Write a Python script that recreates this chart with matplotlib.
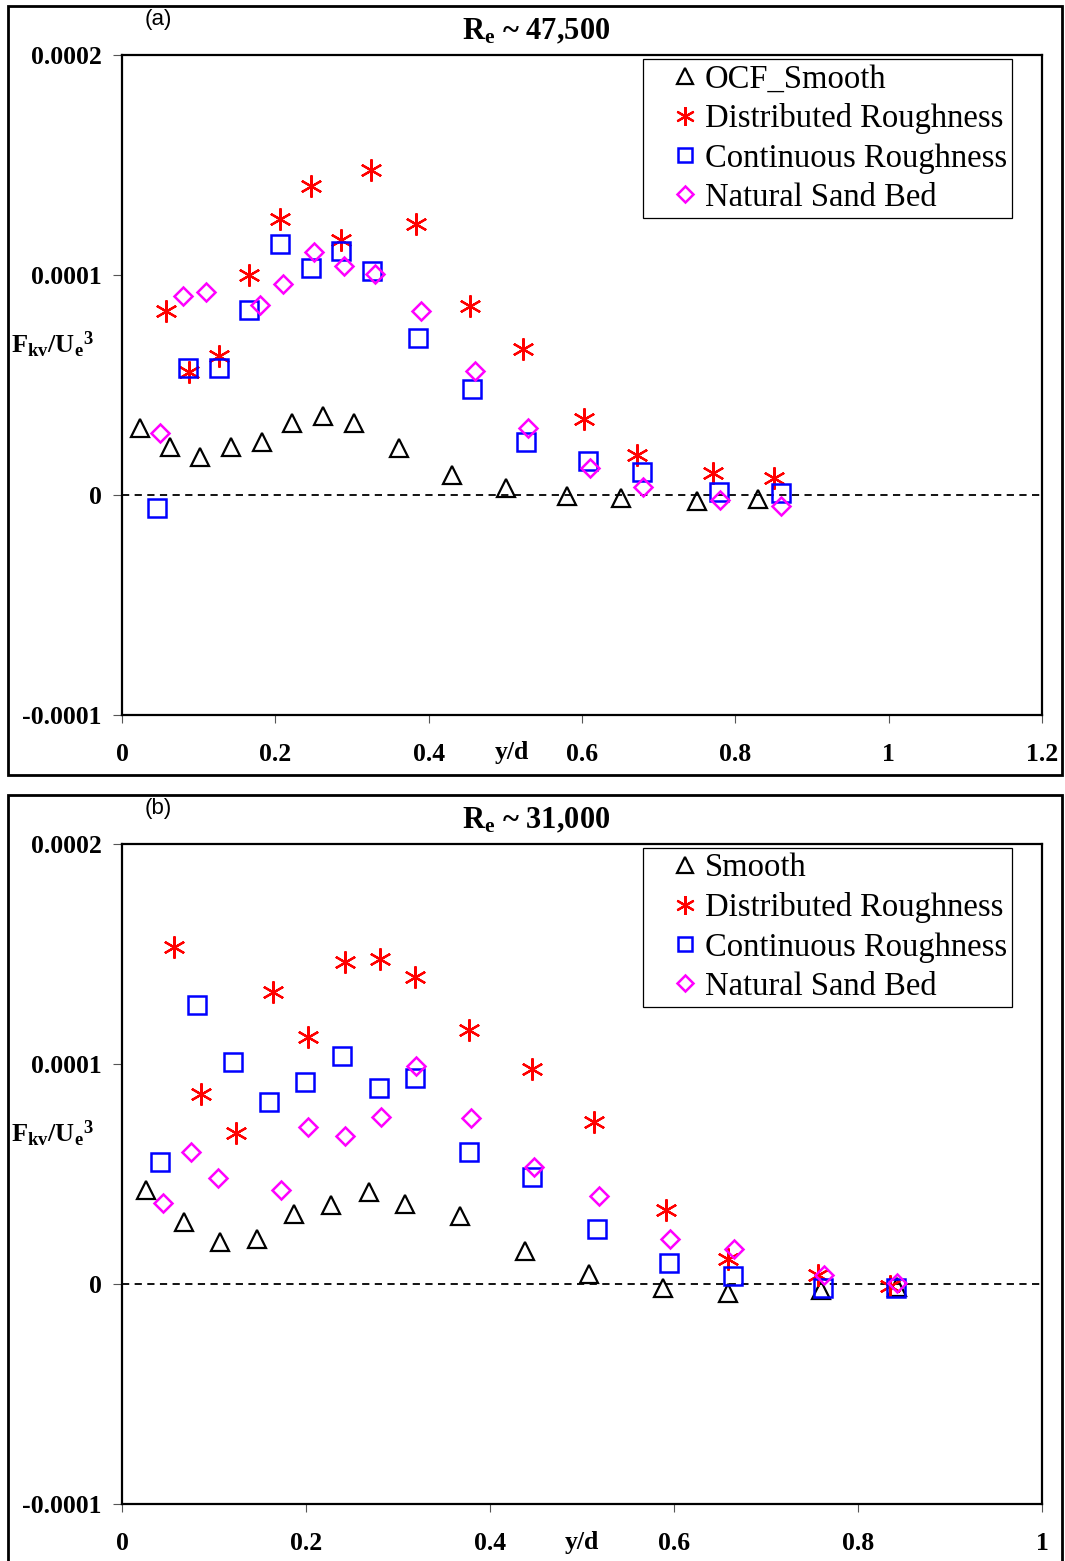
import matplotlib
matplotlib.use("Agg")
import matplotlib.pyplot as plt
from matplotlib.patches import Rectangle

plt.rcParams['font.family'] = ['Liberation Serif', 'DejaVu Serif']
plt.rcParams['mathtext.fontset'] = 'custom'
plt.rcParams['mathtext.rm'] = 'Liberation Serif'
plt.rcParams['mathtext.bf'] = 'Liberation Serif:bold'
plt.rcParams['mathtext.it'] = 'Liberation Serif:italic'

# ---------------- Panel (a) data: Re ~ 47,500 ----------------
a_smooth_x = [0.023, 0.063, 0.102, 0.142, 0.182, 0.222, 0.262, 0.302, 0.361, 0.431,
              0.501, 0.581, 0.651, 0.750, 0.830]
a_smooth_y = [0.303e-4, 0.217e-4, 0.171e-4, 0.217e-4, 0.242e-4, 0.329e-4, 0.359e-4, 0.329e-4,
              0.212e-4, 0.091e-4, 0.030e-4, -0.005e-4, -0.012e-4, -0.026e-4, -0.018e-4]

a_dist_x = [0.057, 0.087, 0.126, 0.166, 0.206, 0.246, 0.285, 0.325, 0.384, 0.454,
            0.523, 0.603, 0.672, 0.771, 0.851]
a_dist_y = [0.838e-4, 0.561e-4, 0.632e-4, 1.000e-4, 1.255e-4, 1.406e-4, 1.159e-4, 1.477e-4,
            1.232e-4, 0.859e-4, 0.662e-4, 0.344e-4, 0.182e-4, 0.098e-4, 0.076e-4]

a_cont_x = [0.045, 0.086, 0.126, 0.166, 0.206, 0.246, 0.286, 0.326, 0.386, 0.457,
            0.527, 0.608, 0.678, 0.779, 0.859]
a_cont_y = [-0.061e-4, 0.579e-4, 0.576e-4, 0.841e-4, 1.139e-4, 1.030e-4, 1.109e-4, 1.018e-4,
            0.712e-4, 0.482e-4, 0.239e-4, 0.155e-4, 0.103e-4, 0.012e-4, 0.008e-4]

a_sand_x = [0.050, 0.080, 0.110, 0.180, 0.210, 0.250, 0.290, 0.330, 0.390, 0.460,
            0.530, 0.610, 0.680, 0.780, 0.860]
a_sand_y = [0.280e-4, 0.906e-4, 0.924e-4, 0.864e-4, 0.958e-4, 1.106e-4, 1.042e-4, 1.003e-4,
            0.838e-4, 0.564e-4, 0.303e-4, 0.121e-4, 0.038e-4, -0.023e-4, -0.049e-4]

# ---------------- Panel (b) data: Re ~ 31,000 ----------------
b_smooth_x = [0.026, 0.067, 0.107, 0.147, 0.187, 0.227, 0.268, 0.308, 0.367, 0.438,
              0.508, 0.588, 0.659, 0.760, 0.842]
b_smooth_y = [0.427e-4, 0.280e-4, 0.189e-4, 0.203e-4, 0.317e-4, 0.359e-4, 0.417e-4, 0.364e-4,
              0.311e-4, 0.152e-4, 0.044e-4, -0.017e-4, -0.042e-4, -0.027e-4, -0.012e-4]

b_dist_x = [0.057, 0.086, 0.124, 0.164, 0.2025, 0.242, 0.280, 0.319, 0.377, 0.446,
            0.513, 0.591, 0.659, 0.757, 0.835]
b_dist_y = [1.533e-4, 0.864e-4, 0.685e-4, 1.329e-4, 1.124e-4, 1.462e-4, 1.476e-4, 1.394e-4,
            1.155e-4, 0.976e-4, 0.735e-4, 0.336e-4, 0.114e-4, 0.041e-4, -0.008e-4]

b_cont_x = [0.041, 0.081, 0.121, 0.160, 0.199, 0.239, 0.279, 0.318, 0.377, 0.446,
            0.516, 0.595, 0.664, 0.762, 0.841]
b_cont_y = [0.553e-4, 1.268e-4, 1.011e-4, 0.829e-4, 0.920e-4, 1.036e-4, 0.892e-4, 0.938e-4,
            0.601e-4, 0.488e-4, 0.250e-4, 0.094e-4, 0.036e-4, -0.020e-4, -0.017e-4]

b_sand_x = [0.045, 0.075, 0.104, 0.173, 0.2025, 0.242, 0.281, 0.320, 0.379, 0.448,
            0.518, 0.596, 0.665, 0.763, 0.842]
b_sand_y = [0.367e-4, 0.601e-4, 0.483e-4, 0.427e-4, 0.715e-4, 0.674e-4, 0.758e-4, 0.992e-4,
            0.756e-4, 0.533e-4, 0.401e-4, 0.205e-4, 0.159e-4, 0.041e-4, 0.003e-4]

a_labels = ['OCF_Smooth', 'Distributed Roughness', 'Continuous Roughness', 'Natural Sand Bed']
b_labels = ['Smooth', 'Distributed Roughness', 'Continuous Roughness', 'Natural Sand Bed']

yticks = [-0.0001, 0, 0.0001, 0.0002]
ytick_labels = ['-0.0001', '0', '0.0001', '0.0002']
a_xticks = [0, 0.2, 0.4, 0.6, 0.8, 1.0, 1.2]
a_xtick_labels = ['0', '0.2', '0.4', '0.6', '0.8', '1', '1.2']
b_xticks = [0, 0.2, 0.4, 0.6, 0.8, 1.0]
b_xtick_labels = ['0', '0.2', '0.4', '0.6', '0.8', '1']

W, H = 1065, 1561
fig = plt.figure(figsize=(W / 100, H / 100), dpi=100)

SERIF = 'Liberation Serif'
TICKFS = 18.5


def fx(px):
    return px / W


def fy(py):
    return 1 - py / H


styles = [
    dict(marker='^', color='black', ms=13, mew=1.6),
    dict(marker=(6, 2, 0), color='red', ms=16, mew=1.6),
    dict(marker='s', color='blue', ms=12.5, mew=1.8),
    dict(marker='D', color='#FF00FF', ms=9.5, mew=1.8),
]


def make_panel(top_px, bottom_px, xmax, xticks, xticklabels, series, labels,
               title, letter, yd_px, box_top, box_bottom, leg_top):
    ax = fig.add_axes([fx(122), fy(bottom_px), fx(1042) - fx(122), fy(top_px) - fy(bottom_px)])
    for (xs, ys), st, lab in zip(series, styles, labels):
        ax.plot(xs, ys, ls='none', label=lab, color=st['color'], marker=st['marker'],
                ms=st['ms'], mfc='none', mec=st['color'], mew=st['mew'])
    ax.axhline(0, color='black', ls=(0, (4, 3)), lw=1.3, zorder=0)
    ax.set_xlim(0, xmax)
    ax.set_ylim(-0.0001, 0.0002)
    ax.set_xticks(xticks)
    ax.set_xticklabels(xticklabels, fontfamily=SERIF, fontweight='bold', fontsize=TICKFS)
    ax.set_yticks(yticks)
    ax.set_yticklabels(ytick_labels, fontfamily=SERIF, fontweight='bold', fontsize=TICKFS)
    ax.tick_params(axis='x', direction='out', length=6, width=0.8, color='#555555', pad=14)
    ax.tick_params(axis='y', direction='out', length=6.5, width=0.8, color='#555555', pad=8)
    for sp in ax.spines.values():
        sp.set_linewidth(1.6)
        sp.set_color('black')
    # y/d label among tick labels
    fig.text(fx(yd_px), fy(bottom_px + 38), 'y/d', ha='center', va='center',
             fontfamily=SERIF, fontweight='bold', fontsize=TICKFS)
    # title
    fig.text(fx(536), fy(top_px - 23), title, ha='center', va='center',
             fontfamily=SERIF, fontweight='bold', fontsize=22)
    fig.text(fx(158), fy(top_px - 35), letter, ha='center', va='center',
             fontfamily='Liberation Sans', fontsize=16)
    # y label
    fig.text(fx(11), fy(top_px + 290), r'$\mathbf{F_{kv}/U_e{}^3}$', ha='left', va='center',
             fontsize=19)
    leg = ax.legend(loc='upper left', bbox_to_anchor=(fx(643), fy(leg_top)),
                    bbox_transform=fig.transFigure, borderaxespad=0, fancybox=False,
                    framealpha=1, edgecolor='black', prop={'family': SERIF, 'size': 23.5},
                    handlelength=2.3, handletextpad=-0.55, borderpad=0.15, labelspacing=0.27,
                    markerscale=0.85)
    leg.get_frame().set_linewidth(0.9)
    # outer border
    fig.patches.append(Rectangle((fx(8), fy(box_bottom)), fx(1062) - fx(8), fy(box_top) - fy(box_bottom),
                                 transform=fig.transFigure, fill=False, lw=2.0, edgecolor='black'))
    return ax


make_panel(55, 715, 1.2, a_xticks, a_xtick_labels,
           [(a_smooth_x, a_smooth_y), (a_dist_x, a_dist_y), (a_cont_x, a_cont_y), (a_sand_x, a_sand_y)],
           a_labels, r'$\mathbf{R_e}$ ~ 47,500', '(a)', 512, 6, 775, 59)

make_panel(844, 1504, 1.0, b_xticks, b_xtick_labels,
           [(b_smooth_x, b_smooth_y), (b_dist_x, b_dist_y), (b_cont_x, b_cont_y), (b_sand_x, b_sand_y)],
           b_labels, r'$\mathbf{R_e}$ ~ 31,000', '(b)', 582, 795, 1575, 848)

fig.savefig('out.png', dpi=100)
